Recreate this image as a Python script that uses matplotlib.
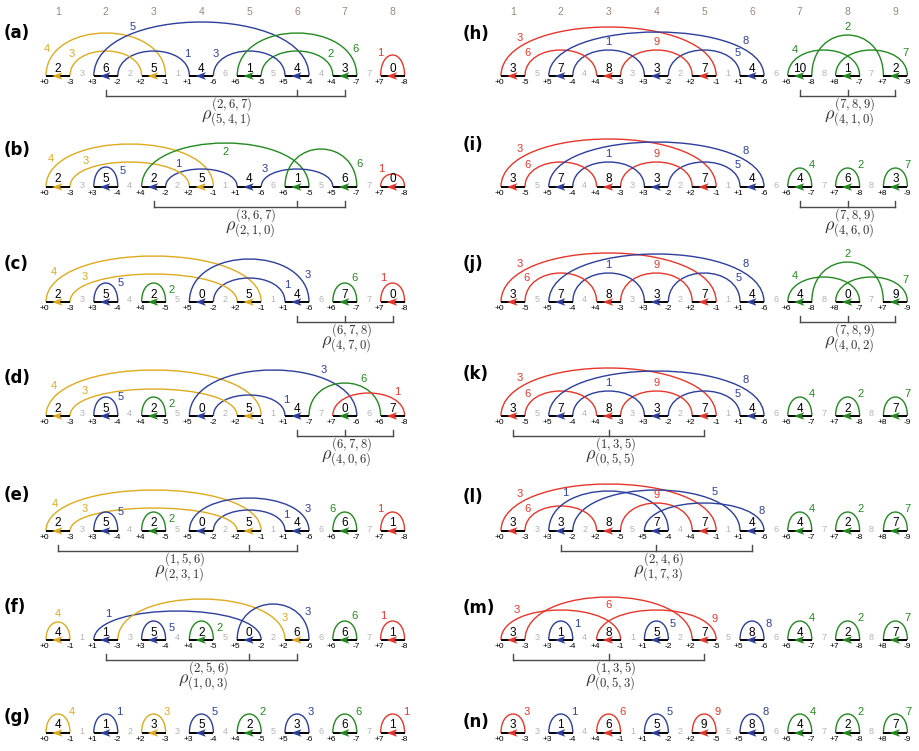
import numpy as np
import matplotlib.pyplot as plt
from matplotlib.path import Path
from matplotlib.patches import PathPatch, Polygon

plt.rcParams['mathtext.fontset'] = 'cm'
plt.rcParams['font.family'] = ['Liberation Sans', 'DejaVu Sans']

COLORS = {'y': '#deaa1e', 'b': '#2d3e9b', 'g': '#23891f', 'r': '#e6362c'}

# =============================================================================
# DATA  (left column: panels a-g, right column: panels h-n)
# =============================================================================
left_names = ['(a)', '(b)', '(c)', '(d)', '(e)', '(f)', '(g)']
left_plus = [[0, 3, 2, 1, 6, 5, 4, 7], [0, 3, 4, 2, 1, 6, 5, 7], [0, 3, 4, 5, 2, 1, 6, 7],
             [0, 3, 4, 5, 2, 1, 7, 6], [0, 3, 4, 5, 2, 1, 6, 7], [0, 1, 3, 4, 5, 2, 6, 7],
             [0, 1, 2, 3, 4, 5, 6, 7]]
left_minus = [[3, 2, 1, 6, 5, 4, 7, 8], [3, 4, 2, 1, 6, 5, 7, 8], [3, 4, 5, 2, 1, 6, 7, 8],
              [3, 4, 5, 2, 1, 7, 6, 8], [3, 4, 5, 2, 1, 6, 7, 8], [1, 3, 4, 5, 2, 6, 7, 8],
              [1, 2, 3, 4, 5, 6, 7, 8]]
left_weight = [[2, 6, 5, 4, 1, 4, 3, 0], [2, 5, 2, 5, 4, 1, 6, 0], [2, 5, 2, 0, 5, 4, 7, 0],
               [2, 5, 2, 0, 5, 4, 0, 7], [2, 5, 2, 0, 5, 4, 6, 1], [4, 1, 5, 2, 0, 6, 6, 1],
               [4, 1, 3, 5, 2, 3, 6, 1]]
left_arrow = ['ybybgbgr', 'ybbybggr', 'ybgbybgr', 'ybgbybgr', 'ybgbybgr', 'ybbgbygr', 'ybybgbgr']
# arcs: (+end, -end, colour, label)
left_arcs = [(0, 1, 'y', 4), (1, 2, 'b', 1), (2, 3, 'y', 3), (3, 4, 'b', 5),
             (4, 5, 'g', 2), (5, 6, 'b', 3), (6, 7, 'g', 6), (7, 8, 'r', 1)]
left_rho = [((2, 6, 7), (5, 4, 1)), ((3, 6, 7), (2, 1, 0)), ((6, 7, 8), (4, 7, 0)),
            ((6, 7, 8), (4, 0, 6)), ((1, 5, 6), (2, 3, 1)), ((2, 5, 6), (1, 0, 3)), None]

right_names = ['(h)', '(i)', '(j)', '(k)', '(l)', '(m)', '(n)']
right_plus = [[0, 5, 4, 3, 2, 1, 6, 8, 7], [0, 5, 4, 3, 2, 1, 6, 7, 8], [0, 5, 4, 3, 2, 1, 6, 8, 7],
              [0, 5, 4, 3, 2, 1, 6, 7, 8], [0, 3, 2, 5, 4, 1, 6, 7, 8], [0, 3, 4, 1, 2, 5, 6, 7, 8],
              [0, 3, 4, 1, 2, 5, 6, 7, 8]]
right_minus = [[5, 4, 3, 2, 1, 6, 8, 7, 9], [5, 4, 3, 2, 1, 6, 7, 8, 9], [5, 4, 3, 2, 1, 6, 8, 7, 9],
               [5, 4, 3, 2, 1, 6, 7, 8, 9], [3, 2, 5, 4, 1, 6, 7, 8, 9], [3, 4, 1, 2, 5, 6, 7, 8, 9],
               [3, 4, 1, 2, 5, 6, 7, 8, 9]]
right_weight = [[3, 7, 8, 3, 7, 4, 10, 1, 2], [3, 7, 8, 3, 7, 4, 4, 6, 3], [3, 7, 8, 3, 7, 4, 4, 0, 9],
                [3, 7, 8, 3, 7, 4, 4, 2, 7], [3, 3, 8, 7, 7, 4, 4, 2, 7], [3, 1, 8, 5, 7, 8, 4, 2, 7],
                [3, 1, 6, 5, 9, 8, 4, 2, 7]]
right_arrow = ['rbrbrbggg'] * 7
arcs_hk = [(0, 1, 'r', 3), (1, 2, 'b', 5), (2, 3, 'r', 9), (3, 4, 'b', 1), (4, 5, 'r', 6),
           (5, 6, 'b', 8), (6, 7, 'g', 4), (7, 8, 'g', 2), (8, 9, 'g', 7)]
arcs_lm = [(0, 1, 'r', 3), (1, 2, 'b', 5), (2, 3, 'r', 6), (3, 4, 'b', 1), (4, 5, 'r', 9),
           (5, 6, 'b', 8), (6, 7, 'g', 4), (7, 8, 'g', 2), (8, 9, 'g', 7)]
arcs_n = [(0, 3, 'r', 3), (3, 4, 'b', 1), (4, 1, 'r', 6), (1, 2, 'b', 5), (2, 5, 'r', 9),
          (5, 6, 'b', 8), (6, 7, 'g', 4), (7, 8, 'g', 2), (8, 9, 'g', 7)]
right_arcs = [arcs_hk, arcs_hk, arcs_hk, arcs_hk, arcs_lm, arcs_lm, arcs_n]
right_rho = [((7, 8, 9), (4, 1, 0)), ((7, 8, 9), (4, 6, 0)), ((7, 8, 9), (4, 0, 2)),
             ((1, 3, 5), (0, 5, 5)), ((2, 4, 6), (1, 7, 3)), ((1, 3, 5), (0, 5, 3)), None]

# =============================================================================
# LAYOUT (pixel units)
# =============================================================================
BASES = [76, 187, 302, 416, 531, 640, 733]
left_name_dy = [-43, -37, -38, -38, -36, -33, -16]
right_name_dy = [-42, -42, -38, -42, -34, -32, -11]
# arc heights and label position along arc
left_h = [[43, 25, 25, 54, 25, 25, 43, 21], [43, 18, 25, 20, 44, 18, 38, 13],
          [46, 24, 28, 19, 19, 43, 19, 19], [46, 21, 27, 19, 19, 46, 33, 23],
          [41, 21, 23, 19, 19, 33, 19, 19], [18, 29, 41, 19, 19, 36, 19, 19], [19] * 8]
left_t = [[.15, .8, .2, .28, .8, .2, .85, .3], [.15, .3, .25, .8, .5, .2, .85, .3],
          [.15, .85, .2, .75, .85, .85, .65, .35], [.15, .85, .2, .75, .85, .7, .65, .75],
          [.15, .85, .2, .75, .85, .85, .3, .3], [.5, .2, .88, .85, .85, .8, .65, .35], [.72] * 8]
left_d = [[8, 8, 8, 6, 8, 8, 8, 8], [8, 8, 8, 8, -9, 8, 8, 8], None, None, None, None, None]
right_h = [[49, 26, 26, 26, 26, 44, 26, 41, 26], [48, 25, 25, 25, 25, 45, 19, 19, 19],
           [49, 29, 29, 29, 29, 48, 25, 40, 25], [48, 25, 25, 25, 25, 45, 19, 19, 19],
           [47, 41, 25, 40, 28, 28, 19, 19, 19], [30, 19, 43, 19, 30, 19, 19, 19, 19], [19] * 9]
right_t = [[.2, .8, .5, .5, .2, .8, .25, .5, .8], [.2, .8, .5, .5, .2, .8, .7, .7, .7],
           [.2, .8, .5, .5, .2, .8, .25, .5, .8], [.2, .8, .5, .5, .2, .8, .7, .7, .7],
           [.2, .74, .2, .26, .5, .85, .7, .7, .7], [.25, .8, .5, .8, .85, .8, .7, .7, .7], [.72] * 9]
right_d = [None, None, None, None, None, [8, 8, -8, 8, 8, 8, 8, 8, 8], None]

PITCH = 47.8
SEG = 24

fig = plt.figure(figsize=(9.19, 7.51), dpi=100)
ax = fig.add_axes([0, 0, 1, 1])
ax.set_xlim(0, 919)
ax.set_ylim(751, 0)
ax.axis('off')


def panel(x0, base, plus, minus, weight, arrows, arcs, heights, ts, offs, name, name_x, name_dy, rho):
    n = len(plus)
    lefts = [x0 + PITCH * i for i in range(n)]
    pos_plus = {p: lefts[i] for i, p in enumerate(plus)}
    pos_minus = {m: lefts[i] + SEG for i, m in enumerate(minus)}

    # ARCS
    for j, (p, m, col, lab) in enumerate(arcs):
        xa, xb = sorted([pos_plus[p], pos_minus[m]])
        c = heights[j] / 0.75
        verts = [(xa, base), (xa, base - c), (xb, base - c), (xb, base)]
        path = Path(verts, [Path.MOVETO, Path.CURVE4, Path.CURVE4, Path.CURVE4])
        ax.add_patch(PathPatch(path, fc='none', ec=COLORS[col], lw=1.0))
        t = ts[j]
        d = 8 if offs is None else offs[j]
        w = xb - xa
        x = xa + w * (3 * t * t - 2 * t ** 3)
        u = 3 * t * (1 - t) * c
        dx = 6 * t * (1 - t) * w
        du = c * (3 - 6 * t)
        nn = np.hypot(dx, du)
        ax.text(x - d * du / nn, base - (u + d * dx / nn), str(lab), color=COLORS[col],
                fontsize=8, ha='center', va='center')

    # SEGMENTS
    for i in range(n):
        L = lefts[i]
        cx = L + SEG / 2 - 0.5
        ax.plot([L, L + SEG], [base, base], color='black', lw=1.4, solid_capstyle='butt')
        ax.add_patch(Polygon([(cx - 5.5, base), (cx + 5, base - 3.8), (cx + 2.5, base),
                              (cx + 5, base + 3.8)], closed=True, fc=COLORS[arrows[i]],
                             ec='none', zorder=3))
        ax.text(L + SEG / 2, base - 4.5, str(weight[i]), fontsize=8.5, ha='center', va='baseline')
        ax.text(L - 1.5, base + 6.5, '+%d' % plus[i], fontsize=6, ha='center', va='center')
        ax.text(L + SEG, base + 6.5, '-%d' % minus[i], fontsize=6, ha='center', va='center')
        if i < n - 1:
            ax.text(L + SEG + (PITCH - SEG) / 2, base - 2, str(minus[i]), color='#b3b3b3',
                    fontsize=6.5, ha='center', va='center')

    # PANEL LABEL
    ax.text(name_x, base + name_dy, name, fontsize=12, fontweight='bold',
            family='DejaVu Sans', ha='left', va='center')

    # BRACKET
    if rho is not None:
        idx, sub = rho
        xs = [lefts[k - 1] + SEG / 2 for k in idx]
        yb = base + 20
        ax.plot([xs[0], xs[-1]], [yb, yb], color='#4a4a4a', lw=1.0)
        for xx in xs:
            ax.plot([xx, xx], [yb, yb - 6], color='#4a4a4a', lw=1.0)
        txt = r'$\rho^{(%s)}_{(%s)}$' % (','.join(map(str, idx)), ','.join(map(str, sub)))
        ax.text((xs[0] + xs[-1]) / 2 + 2, yb + 17, txt, fontsize=13, color='#333333',
                ha='center', va='center')


for r in range(7):
    panel(46, BASES[r], left_plus[r], left_minus[r], left_weight[r], left_arrow[r], left_arcs,
          left_h[r], left_t[r], left_d[r], left_names[r], 4, left_name_dy[r], left_rho[r])
    panel(501, BASES[r], right_plus[r], right_minus[r], right_weight[r], right_arrow[r],
          right_arcs[r], right_h[r], right_t[r], right_d[r], right_names[r], 463, right_name_dy[r],
          right_rho[r])

# COLUMN HEADERS
for k in range(8):
    ax.text(46 + PITCH * k + SEG / 2, 12, str(k + 1), color='#9c8878', fontsize=7.5,
            ha='center', va='center')
for k in range(9):
    ax.text(501 + PITCH * k + SEG / 2, 12, str(k + 1), color='#9c8878', fontsize=7.5,
            ha='center', va='center')

fig.savefig('out.png', dpi=100)
